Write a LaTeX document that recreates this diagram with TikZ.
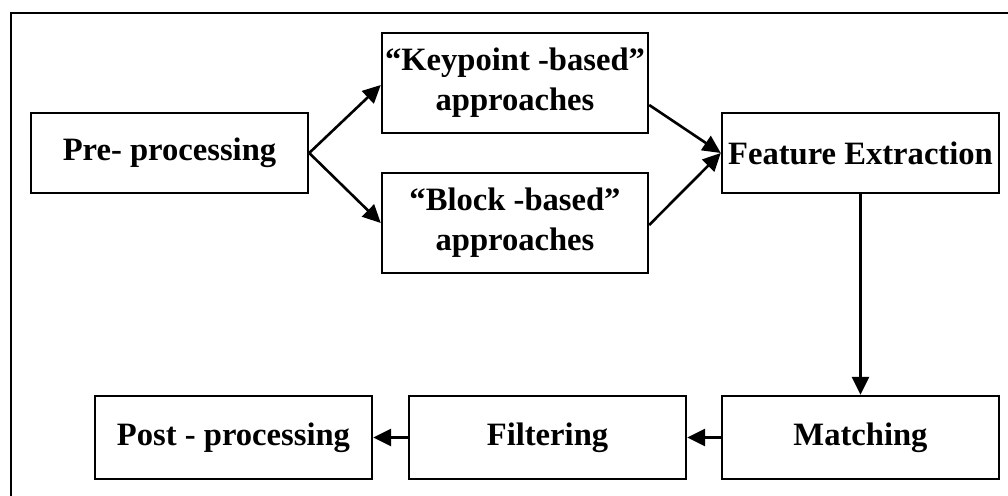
\documentclass[tikz,border=0pt]{standalone}
\usepackage{fontspec}
\setmainfont{Liberation Serif}
\usetikzlibrary{arrows.meta}

\begin{document}
\begin{tikzpicture}[x=0.5pt,y=-0.5pt,
    stagebox/.style={draw,line width=1.2pt,minimum width=138.5pt,minimum height=40pt,inner sep=0pt,align=center,font=\fontsize{16.3}{20}\selectfont\bfseries},
    flowarrow/.style={-{Triangle[length=9pt,width=8.5pt]},line width=1.3pt}]
    \useasboundingbox (0,0) rectangle (1008,496);

    % outer frame
    \draw[line width=0.9pt] (11,496) -- (11,13) -- (1008,13);

    % stages, top row
    \node[stagebox] (pre) at (169.5,153) {Pre- processing};
    \node[stagebox,minimum width=133pt,minimum height=50pt] (key) at (515,83) {“Keypoint -based”\\approaches};
    \node[stagebox,minimum width=133pt,minimum height=50pt] (block) at (515,223) {“Block -based”\\approaches};
    \node[stagebox] (fe) at (860.5,153) {Feature Extraction};

    % stages, bottom row
    \node[stagebox,minimum height=41.5pt] (match) at (860.5,437.5) {Matching};
    \node[stagebox,minimum height=41.5pt] (filt) at (547.5,437.5) {Filtering};
    \node[stagebox,minimum height=41.5pt] (post) at (233.5,437.5) {Post - processing};

    % arrows
    \draw[flowarrow] (pre.east) -- ([yshift=-1pt]key.west);
    \draw[flowarrow] (pre.east) -- (block.west);
    \draw[flowarrow] ([yshift=-11pt]key.east) -- (fe.west);
    \draw[flowarrow] ([yshift=-1pt]block.east) -- (fe.west);
    \draw[flowarrow] (fe.south) -- (match.north);
    \draw[flowarrow] (match.west) -- (filt.east);
    \draw[flowarrow] (filt.west) -- (post.east);
\end{tikzpicture}
\end{document}
